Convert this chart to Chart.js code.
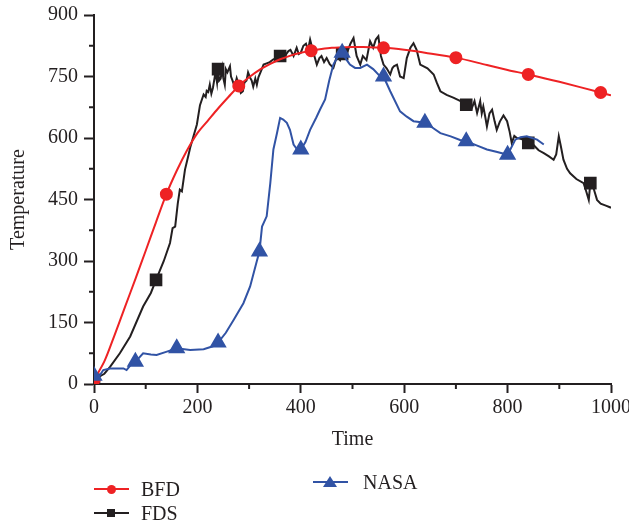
<!DOCTYPE html>
<html>
<head>
<meta charset="utf-8">
<script src="https://cdn.jsdelivr.net/npm/chart.js@4.4.1/dist/chart.umd.min.js"></script>
<style>
    html, body { margin: 0; padding: 0; background: #fff; }
    #wrap { position: relative; width: 629px; height: 526px; }
    .leg-line { position: absolute; height: 2px; }
    .leg-text { position: absolute; font: 20px/20px "Liberation Serif", serif; color: #231f20; }
</style>
</head>
<body>
<div id="wrap">
    <canvas id="temp-canvas" width="629" height="526"></canvas>
    <div id="legend"></div>
</div>
<script>
// time (s) and temperature readings for each curve
const bfdTime = [0, 20, 40, 60, 80, 100, 120, 140, 160, 180, 200, 220, 240, 260, 280, 300, 320, 340, 360, 380, 400, 420, 440, 460, 480, 500, 520, 540, 560, 580, 600, 640, 700, 760, 800, 840, 900, 980, 1000];
const bfdTemp = [10, 55, 120, 188, 256, 325, 395, 463, 520, 570, 612, 642, 672, 700, 727, 748, 766, 780, 792, 801, 808, 813, 817, 820, 821, 822, 822, 821, 820, 818, 815, 808, 796, 778, 766, 755, 737, 711, 704];
const bfdMarks = [0, 140, 280, 420, 560, 700, 840, 980];

const fdsTime = [0, 10, 20, 31, 50, 70, 95, 110, 120, 135, 147, 152, 157, 162, 166, 170, 176, 183, 186, 199, 205, 212, 216, 218, 221, 224, 227, 230, 233, 235, 238, 240, 242, 245, 248, 250, 253, 255, 258, 263, 265, 268, 272, 276, 280, 284, 288, 291, 295, 298, 302, 305, 308, 312, 315, 318, 322, 328, 334, 340, 347, 354, 360, 366, 372, 376, 380, 386, 392, 396, 400, 405, 410, 414, 418, 424, 431, 436, 440, 445, 450, 456, 463, 470, 476, 480, 483, 490, 496, 502, 508, 515, 520, 527, 534, 540, 545, 550, 555, 560, 566, 573, 577, 580, 586, 592, 599, 605, 612, 618, 624, 631, 645, 657, 663, 670, 682, 696, 709, 720, 730, 736, 741, 744, 747, 750, 753, 757, 760, 765, 770, 775, 779, 785, 792, 799, 804, 808, 813, 818, 825, 833, 840, 850, 860, 870, 880, 889, 894, 899, 903, 908, 915, 921, 933, 947, 952, 957, 960, 963, 968, 973, 980, 990, 1000];
const fdsTemp = [10, 18, 25, 42, 75, 116, 189, 222, 254, 300, 344, 380, 384, 440, 474, 470, 523, 560, 576, 633, 680, 706, 700, 715, 712, 730, 708, 722, 745, 760, 735, 768, 740, 745, 770, 747, 730, 768, 760, 775, 750, 740, 725, 746, 730, 710, 714, 735, 740, 760, 747, 740, 725, 745, 730, 748, 760, 779, 782, 785, 792, 795, 800, 790, 805, 812, 815, 800, 820, 805, 808, 825, 830, 815, 840, 810, 779, 795, 800, 785, 795, 780, 771, 800, 790, 805, 820, 810, 830, 844, 800, 779, 800, 790, 836, 820, 840, 848, 800, 779, 770, 755, 770, 775, 779, 750, 746, 795, 820, 831, 815, 779, 770, 755, 735, 714, 705, 698, 690, 681, 670, 690, 661, 675, 690, 660, 677, 650, 628, 660, 669, 640, 620, 640, 655, 641, 615, 588, 605, 600, 598, 595, 588, 583, 570, 563, 555, 547, 560, 604, 580, 547, 525, 514, 500, 490, 470, 449, 490, 492, 470, 449, 440, 435, 430];
const fdsMarks = [0, 120, 240, 360, 480, 600, 720, 840, 960];

const nasaTime = [0, 8, 18, 31, 50, 57, 63, 70, 80, 95, 110, 121, 141, 160, 186, 212, 230, 240, 255, 270, 289, 302, 315, 320, 325, 334, 341, 347, 354, 360, 366, 373, 379, 386, 393, 400, 409, 418, 430, 437, 447, 455, 463, 472, 480, 489, 495, 505, 515, 528, 540, 553, 560, 573, 592, 605, 618, 640, 655, 670, 690, 708, 720, 740, 760, 780, 800, 815, 825, 837, 857, 870];
const nasaTemp = [20, 15, 34, 38, 38, 38, 34, 45, 54, 75, 72, 71, 79, 87, 83, 85, 92, 101, 125, 156, 197, 238, 300, 323, 384, 409, 490, 572, 612, 649, 645, 637, 620, 584, 572, 572, 590, 620, 650, 669, 694, 740, 779, 800, 808, 790, 779, 771, 771, 779, 768, 751, 750, 714, 665, 652, 641, 637, 625, 612, 604, 595, 592, 582, 572, 566, 559, 596, 602, 604, 596, 584];
const nasaMarks = [0, 80, 160, 240, 320, 400, 480, 560, 640, 720, 800];

const yTicks = [0, 150, 300, 450, 600, 750, 900];
const xTicks = [0, 200, 400, 600, 800, 1000];

const ink = '#231f20';
const fontFam = '"Liberation Serif", serif';

const toPoints = (xs, ys) => xs.map((x, i) => ({ x: x, y: ys[i] }));
const markAt = (marks, r) => (ctx) => (ctx.raw && marks.includes(ctx.raw.x)) ? r : 0;

// small in-between ticks, drawn outward like the major ones
const minorTicks = {
    id: 'minorTicks',
    afterDraw(chart) {
        const c = chart.ctx;
        const xs = chart.scales.x, ys = chart.scales.y;
        c.save();
        c.strokeStyle = ink;
        c.lineWidth = 2;
        for (let i = 0; i < yTicks.length - 1; i++) {
            const py = ys.getPixelForValue((yTicks[i] + yTicks[i + 1]) / 2);
            c.beginPath();
            c.moveTo(ys.right, py);
            c.lineTo(ys.right - 5, py);
            c.stroke();
        }
        for (let i = 0; i < xTicks.length - 1; i++) {
            const px = xs.getPixelForValue((xTicks[i] + xTicks[i + 1]) / 2);
            c.beginPath();
            c.moveTo(px, xs.top);
            c.lineTo(px, xs.top + 5);
            c.stroke();
        }
        c.restore();
    }
};

const ctx = document.getElementById('temp-canvas');

new Chart(ctx, {
    type: 'line',
    data: {
        datasets: [{
            label: 'NASA',
            data: toPoints(nasaTime, nasaTemp),
            borderColor: '#3153a5',
            backgroundColor: '#3153a5',
            borderWidth: 2,
            pointStyle: 'triangle',
            pointRadius: markAt(nasaMarks, 8),
            tension: 0,
            order: 1
        }, {
            label: 'BFD',
            data: toPoints(bfdTime, bfdTemp),
            borderColor: '#ee2224',
            backgroundColor: '#ee2224',
            borderWidth: 2,
            pointStyle: 'circle',
            pointRadius: markAt(bfdMarks, 5.5),
            tension: 0.3,
            order: 2
        }, {
            label: 'FDS',
            data: toPoints(fdsTime, fdsTemp),
            borderColor: ink,
            backgroundColor: ink,
            borderWidth: 2,
            pointStyle: 'rect',
            pointRadius: markAt(fdsMarks, 7.5),
            tension: 0,
            order: 3
        }]
    },
    options: {
        responsive: false,
        animation: false,
        layout: { padding: { left: 0, top: 15, right: 18, bottom: 74 } },
        plugins: {
            legend: { display: false },
            tooltip: { enabled: false }
        },
        scales: {
            x: {
                type: 'linear',
                min: 0,
                max: 1000,
                afterBuildTicks: (s) => { s.ticks = xTicks.map(v => ({ value: v })); },
                afterFit: (s) => { s.height = 68; s.paddingLeft = 0; s.paddingRight = 0; },
                grid: { drawOnChartArea: false, tickLength: 9, tickWidth: 2, tickColor: ink },
                border: { color: ink, width: 2 },
                ticks: { color: ink, padding: 3, maxRotation: 0, callback: v => String(v), font: { family: fontFam, size: 20 } },
                title: { display: true, text: 'Time', color: ink, padding: { top: 0, bottom: 0 }, font: { family: fontFam, size: 20 } }
            },
            y: {
                min: 0,
                max: 900,
                afterBuildTicks: (s) => { s.ticks = yTicks.map(v => ({ value: v })); },
                afterFit: (s) => { s.width = 94; s.paddingTop = 0; s.paddingBottom = 0; },
                grid: { drawOnChartArea: false, tickLength: 10, tickWidth: 2, tickColor: ink },
                border: { color: ink, width: 2 },
                ticks: { color: ink, padding: 6, callback: v => String(v), font: { family: fontFam, size: 20 } },
                title: { display: true, text: 'Temperature', color: ink, padding: { top: 7, bottom: 0 }, font: { family: fontFam, size: 20 } }
            }
        }
    },
    plugins: [minorTicks]
});

// legend laid out like the original figure
const legendItems = [
    { name: 'BFD', color: '#ee2224', shape: 'circle', left: 94, mid: 489 },
    { name: 'FDS', color: ink, shape: 'square', left: 94, mid: 513 },
    { name: 'NASA', color: '#3153a5', shape: 'triangle', left: 313, mid: 482 }
];
const legend = document.getElementById('legend');
legendItems.forEach(item => {
    const line = document.createElement('div');
    line.className = 'leg-line';
    line.style.cssText = `left:${item.left}px;top:${item.mid - 1}px;width:35px;background:${item.color}`;
    legend.appendChild(line);

    const mark = document.createElement('div');
    mark.style.position = 'absolute';
    const cx = item.left + 17;
    if (item.shape === 'circle') {
        mark.style.cssText += `left:${cx - 4.5}px;top:${item.mid - 4.5}px;width:9px;height:9px;border-radius:50%;background:${item.color}`;
    } else if (item.shape === 'square') {
        mark.style.cssText += `left:${cx - 4}px;top:${item.mid - 4}px;width:8px;height:8px;background:${item.color}`;
    } else {
        mark.style.cssText += `left:${cx - 7}px;top:${item.mid - 6}px;width:0;height:0;border-left:7px solid transparent;border-right:7px solid transparent;border-bottom:11px solid ${item.color}`;
    }
    legend.appendChild(mark);

    const txt = document.createElement('div');
    txt.className = 'leg-text';
    txt.style.left = (item.left + (item.name === 'NASA' ? 50 : 47)) + 'px';
    txt.style.top = (item.mid - 10) + 'px';
    txt.textContent = item.name;
    legend.appendChild(txt);
});
</script>
</body>
</html>
